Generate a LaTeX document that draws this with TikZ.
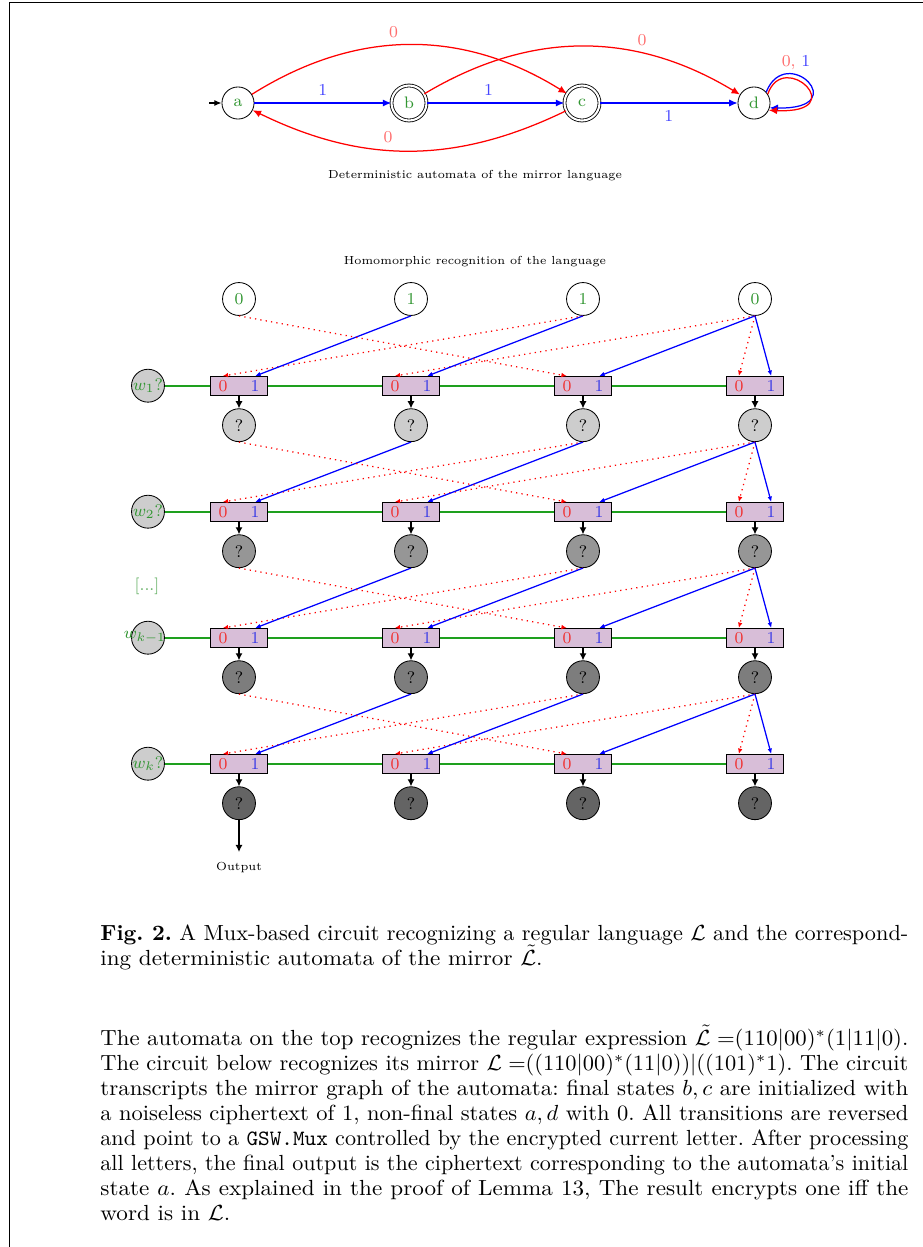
\documentclass[tikz,border=0pt]{standalone}
\usepackage{graphicx}
\usetikzlibrary{arrows.meta,calc}
\definecolor{gtext}{RGB}{50,150,50}
\definecolor{gwire}{RGB}{30,160,30}
\definecolor{muxfill}{RGB}{216,190,216}
\definecolor{lbl0}{RGB}{255,110,110}
\definecolor{lbl1}{RGB}{70,70,255}
\definecolor{muxred}{RGB}{240,50,50}
\definecolor{muxblue}{RGB}{60,60,230}
\definecolor{wfill}{RGB}{205,205,205}
\definecolor{qfa}{RGB}{205,205,205}
\definecolor{qfb}{RGB}{150,150,150}
\definecolor{qfc}{RGB}{125,125,125}
\definecolor{qfd}{RGB}{100,100,100}
\newsavebox\capbox
\newcommand\capjust[1]{%
  \sbox\capbox{#1}%
  \ifdim\wd\capbox<349.4pt\sbox\capbox{\makebox[349.4pt][s]{#1}}\fi
  \resizebox{387.8pt}{1.05\height}{\usebox\capbox}}
\newcommand\capnat[1]{\scalebox{1.11}[1.05]{#1}}
\newcommand\tinyfont{\fontsize{5.6}{6.7}\selectfont}
\begin{document}
\frenchspacing
\begin{tikzpicture}[x=0.48pt,y=0.48pt,font=\footnotesize,
  state/.style={circle,draw,minimum size=15.4pt,inner sep=0pt,text=gtext},
  accst/.style={state,double,double distance=1pt,minimum size=16.8pt},
  redarc/.style={red,semithick,-{Latex[length=4pt,width=3.5pt]}},
  bluearc/.style={blue,semithick,-{Latex[length=4pt,width=3.5pt]}},
  lab0/.style={text=lbl0},
  lab1/.style={text=lbl1},
  mux/.style={rectangle,draw,fill=muxfill,minimum width=27.4pt,minimum height=8.9pt,inner sep=0pt},
  muxlab/.style={inner sep=0pt},
  inw/.style={circle,draw,fill=wfill,minimum size=15.8pt,inner sep=0pt,text=gtext},
  topc/.style={circle,draw,minimum size=15.8pt,inner sep=0pt,text=gtext},
  qnode/.style={circle,draw,minimum size=15.8pt,inner sep=0pt},
  zeroin/.style={red,semithick,dotted,-{Latex[length=2.6pt,width=2.2pt]}},
  onein/.style={blue,semithick,-{Latex[length=2.6pt,width=2.2pt]}},
  outarrow/.style={black,semithick,-{Latex[length=3.4pt,width=3.4pt]}},
  greenwire/.style={draw=gwire,line width=0.8pt},
  capline/.style={anchor=base west,inner sep=0pt,font=\normalsize}
]
\useasboundingbox (0,0) rectangle (923,-1247);
% frame
\draw[line width=0.6pt] (9.5,-1247) -- (9.5,-2.3) -- (923,-2.3);

% ---------------- automaton ----------------
\node[state] (a) at (238,-103) {a};
\node[accst] (b) at (409,-103) {b};
\node[accst] (c) at (582,-103) {c};
\node[state] (d) at (754,-103) {d};
\coordinate (ini) at (209,-103);
\draw[black,semithick,-{Latex[length=3.5pt,width=3pt]}] (ini) -- (a);
\draw[bluearc] (a) -- node[above,lab1]{1} (b);
\draw[bluearc] (b) -- node[above,lab1,pos=0.45]{1} (c);
\draw[bluearc] (c) -- node[below,lab1]{1} (d);
\draw[redarc] (a) to[bend left=32] node[above,lab0,pos=0.45]{0} (c);
\draw[redarc] (b) to[bend left=31] node[above,lab0,pos=0.69]{0} (d);
\draw[redarc] (c) to[bend left=26] node[above,lab0,pos=0.57]{0} (a);
\draw[bluearc] (d.42) .. controls +(20,50) and +(85,-2) .. (d.-17);
\draw[redarc] (d.33) .. controls +(16,46) and +(84,-4) .. (d.-26);
\node[anchor=base] (dl) at (796,-66) {\textcolor{lbl0}{0,} \textcolor{lbl1}{1}};

\node[font=\tinyfont] (t1) at (475,-176) {Deterministic automata of the mirror language};
\node[font=\tinyfont] (t2) at (475,-262) {Homomorphic recognition of the language};

% ---------------- circuit ----------------
\node[topc] (ta) at (239,-299) {0};
\node[topc] (tb) at (411,-299) {1};
\node[topc] (tc) at (583,-299) {1};
\node[topc] (td) at (755,-299) {0};

\node[inw] (w1) at (148,-385.7) {};
\node[inw] (w2) at (148,-511.7) {};
\node[inw] (w3) at (148,-637.7) {};
\node[inw] (w4) at (148,-763.7) {};

% mux boxes and green wires
\foreach \r/\yy in {1/385.7,2/511.7,3/637.7,4/763.7}{
  \foreach \col/\xx in {a/239,b/411,c/583,d/755}{
    \node[mux] (m\r\col) at (\xx,-\yy) {};
  }
  \draw[greenwire] (w\r) -- (m\r a);
  \draw[greenwire] (m\r a) -- (m\r b);
  \draw[greenwire] (m\r b) -- (m\r c);
  \draw[greenwire] (m\r c) -- (m\r d);
}

% labels of the input circles
\node[text=gtext] (w1l) at (w1.center) {$w_1?$};
\node[text=gtext] (w2l) at (w2.center) {$w_2?$};
\node[text=gtext,xshift=-1.5pt] (w3l) at (w3.center) {$w_{k-1}$};
\node[text=gtext] (w4l) at (w4.center) {$w_k?$};
\node[text=gtext!75] (dots) at (147,-586) {[...]};

% mux labels and result circles
\foreach \r/\yy/\qf in {1/385.7/qfa,2/511.7/qfb,3/637.7/qfc,4/763.7/qfd}{
  \foreach \col/\xx in {a/239,b/411,c/583,d/755}{
    \node[muxlab,text=muxred] (z\r\col) at ($(m\r\col.center)+(-16,0)$) {0};
    \node[muxlab,text=muxblue] (o\r\col) at ($(m\r\col.center)+(16,0)$) {1};
    \node[qnode,fill=\qf] (q\r\col) at (\xx,-\yy-39.5) {?};
    \draw[outarrow] (m\r\col) -- (q\r\col);
  }
}

\foreach \r/\p in {1/t,2/q1,3/q2,4/q3}{
  \draw[zeroin] (\p c.south) -- ($(m\r a.north west)!0.22!(m\r a.north east)$);
  \draw[onein]  (\p b.south) -- ($(m\r a.north west)!0.78!(m\r a.north east)$);
  \draw[zeroin] (\p d.south) -- ($(m\r b.north west)!0.22!(m\r b.north east)$);
  \draw[onein]  (\p c.south) -- ($(m\r b.north west)!0.78!(m\r b.north east)$);
  \draw[zeroin] (\p a.south) -- ($(m\r c.north west)!0.22!(m\r c.north east)$);
  \draw[onein]  (\p d.south) -- ($(m\r c.north west)!0.78!(m\r c.north east)$);
  \draw[zeroin] (\p d.south) -- ($(m\r d.north west)!0.22!(m\r d.north east)$);
  \draw[onein]  (\p d.south) -- ($(m\r d.north west)!0.78!(m\r d.north east)$);
}

\coordinate (outc) at (239,-852);
\draw[outarrow] (q4a) -- (outc);
\node[font=\tinyfont] (outt) at (239,-868) {Output};

% ---------------- caption ----------------
\node[capline] (l1) at (100,-940) {\capjust{\textbf{Fig.~2.} A Mux-based circuit recognizing a regular language $\mathcal{L}$ and the correspond-}};
\node[capline] (l2) at (100,-965) {\capnat{ing deterministic automata of the mirror $\tilde{\mathcal{L}}$.}};
\node[capline] (l3) at (100,-1045) {\capjust{The automata on the top recognizes the regular expression $\tilde{\mathcal{L}}\mskip5mu{=}(110|00)^*(1|11|0)$.}};
\node[capline] (l4) at (100,-1070) {\capjust{The circuit below recognizes its mirror $\mathcal{L}\mskip5mu{=}((110|00)^*(11|0))|((101)^*1)$. The circuit}};
\node[capline] (l5) at (100,-1095) {\capjust{transcripts the mirror graph of the automata: final states $b,c$ are initialized with}};
\node[capline] (l6) at (100,-1120) {\capjust{a noiseless ciphertext of 1, non-final states $a,d$ with 0. All transitions are reversed}};
\node[capline] (l7) at (100,-1145) {\capjust{and point to a \texttt{GSW.Mux} controlled by the encrypted current letter. After processing}};
\node[capline] (l8) at (100,-1170) {\capjust{all letters, the final output is the ciphertext corresponding to the automata's initial}};
\node[capline] (l9) at (100,-1195) {\capjust{state $a$. As explained in the proof of Lemma 13, The result encrypts one iff the}};
\node[capline] (l10) at (100,-1220) {\capnat{word is in $\mathcal{L}$.}};
\end{tikzpicture}
\end{document}
